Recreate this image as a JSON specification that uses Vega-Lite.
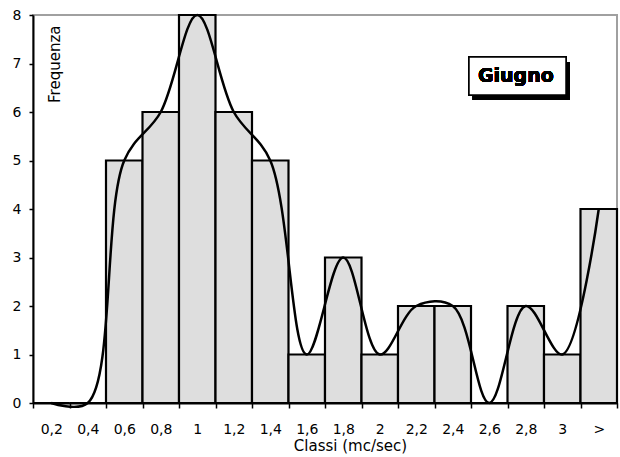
{
  "$schema": "https://vega.github.io/schema/vega-lite/v6.json",
  "autosize": "none",
  "width": 584,
  "height": 388,
  "padding": {"left": 33, "top": 15, "right": 3, "bottom": 54},
  "background": "white",
  "config": {
    "view": {"stroke": "#a0a0a0", "strokeWidth": 2},
    "font": "DejaVu Sans"
  },
  "data": {
    "values": [
      {"classe": "0,2", "freq": 0},
      {"classe": "0,4", "freq": 0},
      {"classe": "0,6", "freq": 5},
      {"classe": "0,8", "freq": 6},
      {"classe": "1", "freq": 8},
      {"classe": "1,2", "freq": 6},
      {"classe": "1,4", "freq": 5},
      {"classe": "1,6", "freq": 1},
      {"classe": "1,8", "freq": 3},
      {"classe": "2", "freq": 1},
      {"classe": "2,2", "freq": 2},
      {"classe": "2,4", "freq": 2},
      {"classe": "2,6", "freq": 0},
      {"classe": "2,8", "freq": 2},
      {"classe": "3", "freq": 1},
      {"classe": ">", "freq": 4}
    ]
  },
  "resolve": {"scale": {"x": "independent"}},
  "layer": [
    {
      "layer": [
        {
          "mark": {"type": "bar", "fill": "#dedede", "stroke": "black", "strokeWidth": 2.2},
          "encoding": {
            "x": {
              "field": "classe", "type": "nominal", "sort": null,
              "scale": {"paddingInner": 0, "paddingOuter": 0},
              "axis": {
                "title": "Classi (mc/sec)",
                "labelAngle": 0,
                "tickBand": "extent",
                "domainColor": "black", "domainWidth": 2,
                "tickColor": "black", "tickWidth": 1.5, "tickSize": 5,
                "labelFont": "DejaVu Sans", "labelFontSize": 14, "labelColor": "black",
                "labelPadding": 14,
                "titleFont": "DejaVu Sans", "titleFontSize": 15, "titleFontWeight": "normal", "titleColor": "black",
                "titleX": 317, "titleY": 47, "titleAlign": "center", "titleBaseline": "alphabetic"
              }
            },
            "y": {
              "field": "freq", "type": "quantitative",
              "scale": {"domain": [0, 8], "nice": false, "zero": true},
              "axis": {
                "title": "Frequenza",
                "values": [0, 1, 2, 3, 4, 5, 6, 7, 8],
                "grid": false,
                "domainColor": "black", "domainWidth": 2,
                "tickColor": "black", "tickWidth": 1.5, "tickSize": 4,
                "labelFont": "DejaVu Sans", "labelFontSize": 14, "labelColor": "black",
                "labelPadding": 8,
                "titleFont": "DejaVu Sans", "titleFontSize": 15, "titleFontWeight": "normal", "titleColor": "black",
                "titleAngle": -90, "titleX": 26, "titleY": 10, "titleAlign": "right", "titleBaseline": "alphabetic"
              }
            }
          }
        },
        {
          "mark": {"type": "line", "color": "black", "strokeWidth": 2.5, "interpolate": "catmull-rom"},
          "encoding": {
            "x": {"field": "classe", "type": "nominal", "sort": null},
            "y": {"field": "freq", "type": "quantitative"}
          }
        }
      ]
    },
    {
      "layer": [
        {
          "mark": {"type": "rect", "fill": "black"},
          "encoding": {
            "x": {"datum": 12.05, "type": "quantitative", "scale": {"domain": [0, 16], "nice": false}, "axis": null},
            "x2": {"datum": 14.71},
            "y": {"datum": 7.03, "type": "quantitative"},
            "y2": {"datum": 6.25}
          }
        },
        {
          "mark": {"type": "rect", "fill": "white", "stroke": "black", "strokeWidth": 1.5},
          "encoding": {
            "x": {"datum": 11.945, "type": "quantitative", "scale": {"domain": [0, 16], "nice": false}, "axis": null},
            "x2": {"datum": 14.603},
            "y": {"datum": 7.134, "type": "quantitative"},
            "y2": {"datum": 6.351}
          }
        },
        {
          "mark": {"type": "text", "text": "Giugno", "font": "DejaVu Sans", "fontWeight": "bold", "fontSize": 19, "color": "black", "align": "center", "baseline": "alphabetic"},
          "encoding": {
            "x": {"datum": 13.23, "type": "quantitative", "scale": {"domain": [0, 16], "nice": false}, "axis": null},
            "y": {"datum": 6.62, "type": "quantitative"}
          }
        }
      ]
    }
  ]
}
